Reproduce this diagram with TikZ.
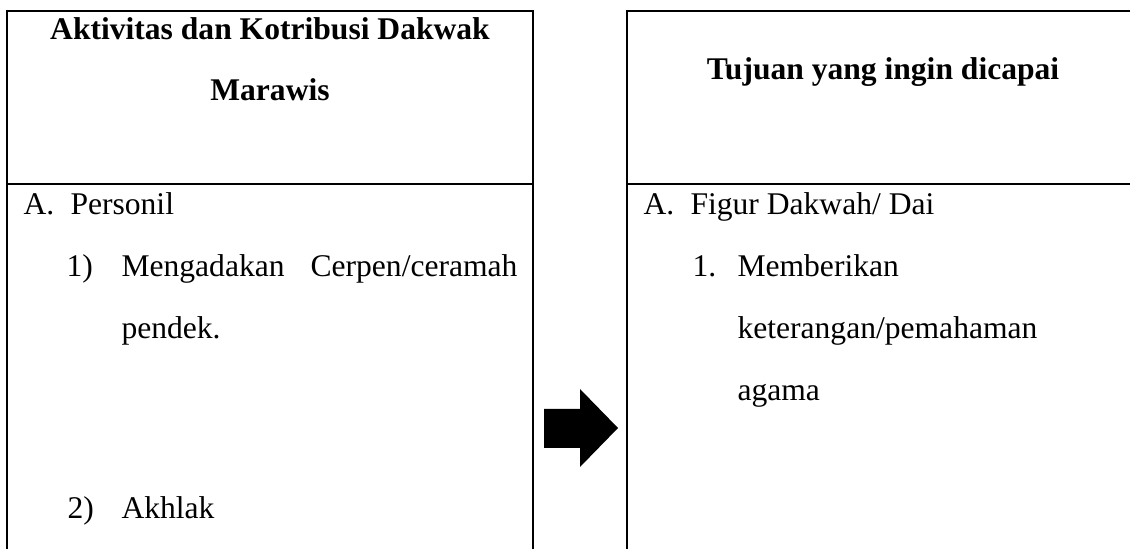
\documentclass[tikz,border=0pt]{standalone}
\usepackage{fontspec}
\setmainfont{Liberation Serif}
\begin{document}
\begin{tikzpicture}[x=.38pt,y=-.38pt,
    frame/.style={line width=.85pt},
    txt/.style={anchor=base west,inner sep=0pt,font=\fontsize{12}{14}\selectfont},
    head/.style={anchor=base,inner sep=0pt,font=\fontsize{12}{14}\selectfont\bfseries}]
  \useasboundingbox (0,0) rectangle (1130,549);
  \clip (0,0) rectangle (1130,549);

  %% frames
  \draw[frame] (7,560) -- (7,11) -- (533,11) -- (533,560);
  \draw[frame] (7,184) -- (533,184);
  \draw[frame] (627,560) -- (627,11) -- (1145,11);
  \draw[frame] (627,184) -- (1145,184);

  %% headers
  \node[head] (hdl1) at (270,40) {Aktivitas dan Kotribusi Dakwak};
  \node[head] (hdl2) at (270,101) {Marawis};
  \node[head] (hdr) at (883,80) {Tujuan yang ingin dicapai};

  %% left column
  \node[txt] (la) at (23,215) {A.};
  \node[txt] (lpers) at (70,215) {Personil};
  \node[txt] (l1) at (66,277) {1)};
  \node[txt] (l1a) at (121,277) {Mengadakan};
  \node[txt,anchor=base east] (l1b) at (518,277) {Cerpen/ceramah};
  \node[txt] (l1c) at (121,339) {pendek.};
  \node[txt] (l2) at (67,518) {2)};
  \node[txt] (l2a) at (121,518) {Akhlak};

  %% right column
  \node[txt] (ra) at (643,215) {A.};
  \node[txt] (rfig) at (690,215) {Figur Dakwah/ Dai};
  \node[txt] (r1) at (692,277) {1.};
  \node[txt] (r1a) at (737,277) {Memberikan};
  \node[txt] (r1b) at (737,339) {keterangan/pemahaman};
  \node[txt] (r1c) at (737,401) {agama};

  %% arrow
  \fill (544,409) -- (580,409) -- (580,389) -- (618,428)
    -- (580,467) -- (580,448) -- (544,448) -- cycle;
\end{tikzpicture}
\end{document}
